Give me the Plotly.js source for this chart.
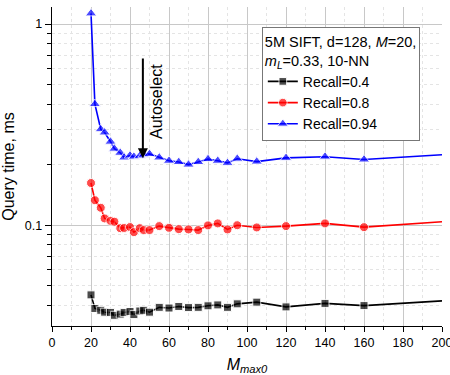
<!DOCTYPE html>
<html>
<head>
<meta charset="utf-8">
<script src="https://cdn.plot.ly/plotly-3.0.1.min.js"></script>
<style>html,body{margin:0;padding:0;background:#fff;}#chart{width:450px;height:375px;}</style>
</head>
<body>
<div id="chart"></div>
<script>
// M_max0 values
const mmax0 = [20, 22, 25, 27, 30, 32, 35, 37, 40, 42, 45, 47, 50, 55, 60, 65, 70, 75, 80, 85, 90, 95, 105, 120, 140, 160, 200];
// Query time (ms)
const recall04 = [0.045, 0.0385, 0.0377, 0.0369, 0.0368, 0.0356, 0.0361, 0.0368, 0.0372, 0.0359, 0.0374, 0.0377, 0.0369, 0.0390, 0.0387, 0.0394, 0.0389, 0.0390, 0.0397, 0.0401, 0.0390, 0.0406, 0.0414, 0.0392, 0.0408, 0.0398, 0.0420];
const recall08 = [0.162, 0.133, 0.122, 0.108, 0.105, 0.104, 0.0966, 0.0968, 0.0978, 0.0923, 0.0966, 0.0945, 0.0945, 0.0989, 0.0970, 0.0955, 0.0952, 0.0945, 0.0997, 0.102, 0.0952, 0.0999, 0.0974, 0.0989, 0.102, 0.0977, 0.104];
const recall094 = [1.13, 0.40, 0.30, 0.289, 0.26, 0.24, 0.229, 0.217, 0.222, 0.219, 0.221, 0.224, 0.226, 0.217, 0.209, 0.206, 0.200, 0.206, 0.213, 0.209, 0.204, 0.214, 0.207, 0.216, 0.219, 0.212, 0.224];
const seriesNames = ["Recall=0.4", "Recall=0.8", "Recall=0.94"];
const xTickVals = [0, 20, 40, 60, 80, 100, 120, 140, 160, 180, 200];
const yTickVals = [0.1, 1];
const yTickText = ["0.1", "1"];
const yMinorVals = [0.04, 0.05, 0.06, 0.07, 0.08, 0.09, 0.2, 0.3, 0.4, 0.5, 0.6, 0.7, 0.8, 0.9];
const autoselectX = 46.6;
const arrowTip = 0.215, arrowTail = 0.685;

const FONT = "Liberation Sans, Arial, sans-serif";
const sizeFor = (s) => mmax0.map(v => v >= 200 ? 0 : s);

const traces = [
  {x: mmax0, y: recall04, name: seriesNames[0], mode: "lines+markers",
   line: {color: "#000000", width: 1.6}, marker: {symbol: "square", size: sizeFor(8), color: "#000000"}},
  {x: mmax0, y: recall08, name: seriesNames[1], mode: "lines+markers",
   line: {color: "#ff0000", width: 1.6}, marker: {symbol: "circle", size: sizeFor(9), color: "#ff0000"}},
  {x: mmax0, y: recall094, name: seriesNames[2], mode: "lines+markers",
   line: {color: "#0000ff", width: 1.6}, marker: {symbol: "triangle-up", size: sizeFor(10), color: "#0000ff"}}
];

const layout = {
  width: 450, height: 375,
  margin: {l: 52, r: 8, t: 7, b: 49},
  paper_bgcolor: "#ffffff", plot_bgcolor: "#ffffff",
  font: {family: FONT, size: 12, color: "#000"},
  showlegend: true,
  legend: {
    x: 0.538, y: 0.937, xanchor: "left", yanchor: "top",
    bgcolor: "#ffffff", bordercolor: "#777777", borderwidth: 1,
    font: {family: FONT, size: 14, color: "#000"},
    title: {text: "5M SIFT, d=128, <i>M</i>=20,<br><i>m<sub>L</sub></i>=0.33, 10-NN", side: "top", font: {family: FONT, size: 14.5}},
    tracegroupgap: 0, itemwidth: 30
  },
  xaxis: {
    range: [0, 200], tickmode: "array", tickvals: xTickVals,
    ticks: "outside", ticklen: 5, tickwidth: 1, tickcolor: "#000",
    showline: true, linecolor: "#000", linewidth: 1.3, mirror: false,
    showgrid: true, gridcolor: "#c8c8c8", gridwidth: 1, zeroline: false,
    tickfont: {family: FONT, size: 12.5}, ticklabeloverflow: "allow",
    minor: {dtick: 10, tick0: 0, ticks: "outside", ticklen: 3, tickcolor: "#000", showgrid: true, gridcolor: "#e4e4e4", griddash: "dot", gridwidth: 1},
    title: {text: "<i>M</i><sub><i>max0</i></sub>", font: {family: FONT, size: 16}, standoff: 10}
  },
  yaxis: {
    type: "log", range: [Math.log10(0.0315), Math.log10(1.216)],
    tickmode: "array", tickvals: yTickVals, ticktext: yTickText,
    ticks: "outside", ticklen: 6, tickwidth: 1, tickcolor: "#000",
    showline: true, linecolor: "#000", linewidth: 1.3, mirror: false,
    showgrid: true, gridcolor: "#c8c8c8", gridwidth: 1, zeroline: false,
    tickfont: {family: FONT, size: 12.5},
    minor: {tickmode: "array", tickvals: yMinorVals, ticks: "outside", ticklen: 4, tickcolor: "#000", showgrid: true, gridcolor: "#e4e4e4", griddash: "dot", gridwidth: 1},
    title: {text: "Query time, ms", font: {family: FONT, size: 16}, standoff: 10}
  },
  annotations: [
    {x: autoselectX, y: Math.log10(arrowTip), xref: "x", yref: "y",
     ax: autoselectX, ay: Math.log10(arrowTail), axref: "x", ayref: "y",
     text: "", showarrow: true, arrowhead: 2, arrowsize: 1, arrowwidth: 2, arrowcolor: "#000"},
    {x: autoselectX, y: Math.log10(Math.sqrt(arrowTip * arrowTail)) + 0.03, xref: "x", yref: "y",
     text: "Autoselect", showarrow: false, textangle: -90, xanchor: "left", xshift: 3,
     font: {family: FONT, size: 16, color: "#000"}}
  ]
};

Plotly.newPlot("chart", traces, layout, {displayModeBar: false, staticPlot: true});
</script>
</body>
</html>
